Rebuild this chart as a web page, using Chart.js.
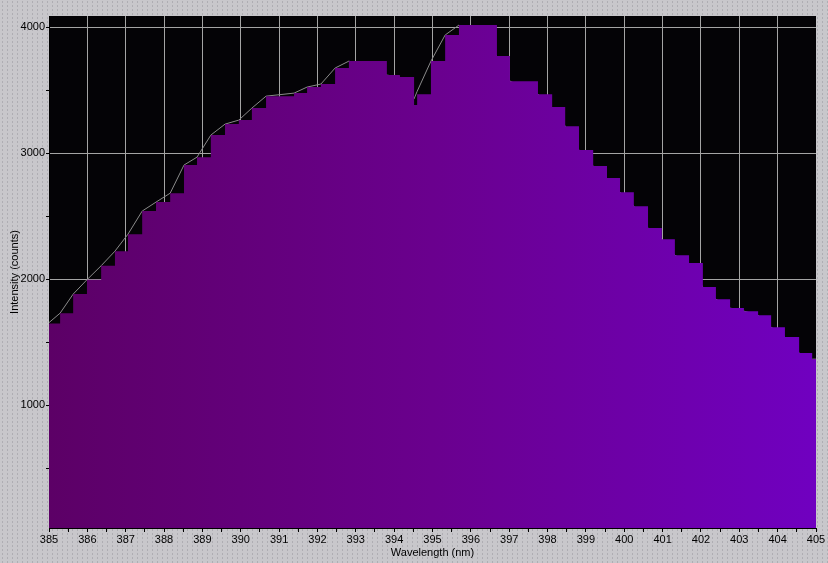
<!DOCTYPE html>
<html>
<head>
<meta charset="utf-8">
<title>Spectrum</title>
<script src="https://cdn.jsdelivr.net/npm/chart.js@4.4.0/dist/chart.umd.min.js"></script>
<style>
  html, body { margin: 0; padding: 0; }
  body {
    width: 828px; height: 563px; overflow: hidden;
    background-color: #c8c7cb;
    background-image: radial-gradient(#adacb1 0.6px, transparent 0.9px);
    background-size: 5px 4px;
  }
  #wrap { position: relative; width: 828px; height: 563px; }
</style>
</head>
<body>
<div id="wrap"><canvas id="spec"></canvas></div>
<script>
// Left edge of each detector bin (nm) and the counts
const wavelengths = [
  385.00, 385.29, 385.63, 385.99, 386.36, 386.72, 387.06, 387.43, 387.79, 388.16,
  388.52, 388.86, 389.22, 389.59, 389.95, 390.29, 390.66, 391.39, 391.73, 392.09,
  392.46, 392.82, 393.81, 394.15, 394.52, 394.60, 394.96, 395.33, 395.69, 396.68,
  397.02, 397.75, 398.12, 398.46, 398.82, 399.19, 399.55, 399.89, 400.25, 400.62,
  400.98, 401.32, 401.69, 402.05, 402.39, 402.76, 403.12, 403.49, 403.83, 404.19,
  404.56, 404.90, 405.00
];
// stepped fill (bins)
const binCounts = [
  1648, 1730, 1881, 1995, 2106, 2222, 2357, 2540, 2611, 2682,
  2905, 2968, 3143, 3230, 3262, 3357, 3452, 3476, 3524, 3548,
  3675, 3730, 3619, 3603, 3381, 3468, 3730, 3937, 4016, 3770,
  3571, 3468, 3365, 3214, 3024, 2897, 2802, 2690, 2579, 2405,
  2317, 2190, 2127, 1937, 1841, 1770, 1746, 1714, 1619, 1540,
  1413, 1365, 1365
];
// thin trace drawn behind the bins
const traceCounts = [
  1655, 1730, 1881, 1995, 2106, 2222, 2357, 2540, 2611, 2682,
  2905, 2968, 3143, 3230, 3262, 3357, 3452, 3476, 3524, 3548,
  3675, 3730, 3619, 3603, 3431, 3490, 3730, 3937, 4016, 3770,
  3571, 3468, 3365, 3214, 3024, 2897, 2802, 2690, 2579, 2405,
  2317, 2190, 2127, 1937, 1841, 1770, 1746, 1714, 1619, 1540,
  1413, 1365, 1365
];

// tick labels
const xLabels = [385, 386, 387, 388, 389, 390, 391, 392, 393, 394, 395,
                 396, 397, 398, 399, 400, 401, 402, 403, 404, 405];
const yLabels = [1000, 2000, 3000, 4000];
const xMinorStep = 0.5;
const yMinorStep = 500;

const GRID = "#a4a4a4";
const FONT = { family: "'Liberation Sans', Arial, sans-serif", size: 11 };

// minor ticks sit half way between labelled ones
function withMinor(majors, step, lo, hi) {
  const out = [];
  majors.forEach(v => {
    if (v - step >= lo && !out.includes(v - step)) out.push(v - step);
    out.push(v);
    if (v + step <= hi) out.push(v + step);
  });
  return [...new Set(out)].sort((a, b) => a - b);
}

const blackPlot = {
  id: "blackPlot",
  beforeDraw(chart) {
    const { ctx, chartArea: a } = chart;
    ctx.save();
    ctx.fillStyle = "#040306";
    ctx.fillRect(a.left, a.top, a.right - a.left, a.bottom - a.top);
    ctx.restore();
  }
};

function purpleFill(c) {
  const chart = c.chart;
  const a = chart.chartArea;
  if (!a) return "#6500a0";
  const g = chart.ctx.createLinearGradient(a.left, 0, a.right, 0);
  g.addColorStop(0, "rgb(92,0,102)");
  g.addColorStop(0.5, "rgb(106,0,142)");
  g.addColorStop(1, "rgb(112,0,192)");
  return g;
}

const ctx = document.getElementById("spec").getContext("2d");

new Chart(ctx, {
  type: "line",
  data: {
    datasets: [
      {
        label: "bins",
        data: wavelengths.map((w, i) => ({ x: w, y: binCounts[i] })),
        stepped: "before",
        fill: "start",
        backgroundColor: purpleFill,
        borderWidth: 0,
        borderColor: "rgba(0,0,0,0)",
        pointRadius: 0,
        order: 1
      },
      {
        label: "trace",
        data: wavelengths.map((w, i) => ({ x: w, y: traceCounts[i] })),
        fill: false,
        borderColor: "#8a8a8a",
        borderWidth: 1,
        tension: 0,
        pointRadius: 0,
        order: 2
      }
    ]
  },
  options: {
    responsive: true,
    maintainAspectRatio: false,
    animation: false,
    layout: { padding: { top: 16, right: 12, left: 0, bottom: 0 } },
    plugins: {
      legend: { display: false },
      tooltip: { enabled: false }
    },
    scales: {
      x: {
        type: "linear",
        min: 385,
        max: 405,
        afterBuildTicks: s => {
          s.ticks = withMinor(xLabels, xMinorStep, 385, 405).map(v => ({ value: v }));
        },
        afterFit: s => { s.height = 35; },
        ticks: {
          autoSkip: false,
          maxRotation: 0,
          padding: 1,
          color: "#000",
          font: FONT,
          callback: v => xLabels.includes(v) ? String(v) : ""
        },
        grid: {
          color: c => (c.tick && xLabels.includes(c.tick.value) && c.tick.value !== 385 && c.tick.value !== 405) ? GRID : "rgba(0,0,0,0)",
          tickColor: "#000",
          tickLength: 4
        },
        border: { color: "#000", width: 1 },
        title: {
          display: true,
          text: "Wavelength (nm)",
          color: "#000",
          font: FONT,
          padding: { top: 0, bottom: 3 }
        }
      },
      y: {
        type: "linear",
        min: 25,
        max: 4088,
        afterBuildTicks: s => {
          s.ticks = withMinor(yLabels, yMinorStep, 25, 4088).map(v => ({ value: v }));
        },
        afterFit: s => { s.width = 49; },
        ticks: {
          padding: 1,
          color: "#000",
          font: FONT,
          callback: v => yLabels.includes(v) ? String(v) : ""
        },
        grid: {
          color: c => (c.tick && yLabels.includes(c.tick.value)) ? GRID : "rgba(0,0,0,0)",
          tickColor: "#000",
          tickLength: 3
        },
        border: { color: "#000", width: 1 },
        title: {
          display: true,
          text: "Intensity (counts)",
          color: "#000",
          font: FONT,
          padding: { top: 8, bottom: 0 }
        }
      }
    }
  },
  plugins: [blackPlot]
});
</script>
</body>
</html>
